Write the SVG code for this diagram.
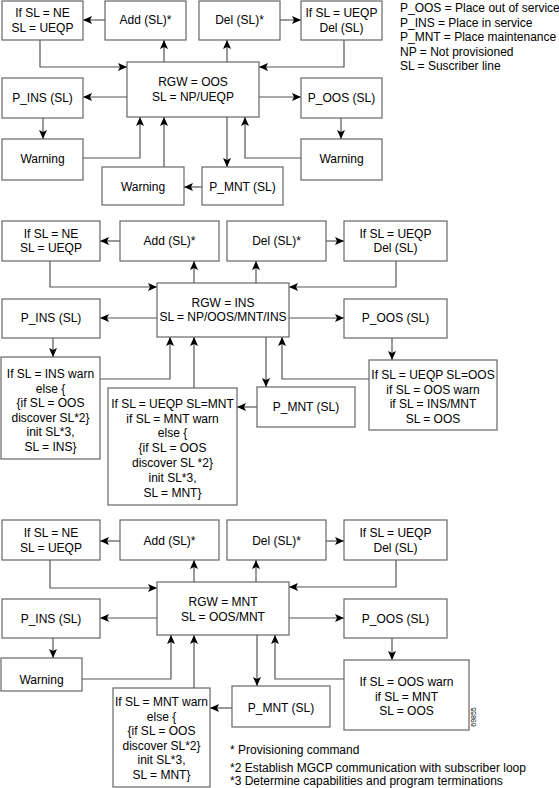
<svg xmlns="http://www.w3.org/2000/svg" width="559" height="788" viewBox="0 0 559 788">
<defs>
<marker id="ah" markerWidth="9" markerHeight="8" refX="9" refY="4" orient="auto" markerUnits="userSpaceOnUse">
<path d="M0,0 L9,4 L0,8 L2,4 z" fill="#000"/>
</marker>
<style>
rect{fill:#fff;stroke:#666;stroke-width:1.2}
text{font-family:"Liberation Sans",Arial,sans-serif;font-size:12px;fill:#000}
.c{text-anchor:middle}
.s{font-size:7px}
#connectors path{fill:none;stroke:#555;stroke-width:1.2;marker-end:url(#ah)}
</style>
</defs>
<rect x="0" y="0" width="559" height="788" style="fill:#fff;stroke:none"/>
<g id="connectors">
<path d="M105,20 H83"/>
<path d="M280,20 H301"/>
<path d="M40,40 V67 H127"/>
<path d="M164,62 V40"/>
<path d="M227,62 V40"/>
<path d="M344,40 V67 H259"/>
<path d="M127,97 H83"/>
<path d="M259,97 H301"/>
<path d="M43,118 V139"/>
<path d="M341,118 V139"/>
<path d="M83,158 H140 V117"/>
<path d="M164,167 V117"/>
<path d="M227,117 V167"/>
<path d="M202,187 H184"/>
<path d="M301,158 H245 V117"/>
<path d="M120,241 H100"/>
<path d="M326,241 H344"/>
<path d="M50,261 V287 H157"/>
<path d="M194,283 V261"/>
<path d="M256,283 V261"/>
<path d="M396,261 V287 H289"/>
<path d="M157,318 H100"/>
<path d="M289,318 H344"/>
<path d="M53,338 V357"/>
<path d="M392,338 V360"/>
<path d="M100,379 H170 V337"/>
<path d="M194,388 V337"/>
<path d="M266,337 V387"/>
<path d="M257,407 H237"/>
<path d="M369,379 H282 V337"/>
<path d="M120,541 H100"/>
<path d="M326,541 H344"/>
<path d="M50,560 V588 H157"/>
<path d="M194,582 V560"/>
<path d="M256,582 V560"/>
<path d="M396,560 V587 H289"/>
<path d="M157,618 H100"/>
<path d="M289,618 H344"/>
<path d="M53,638 V658"/>
<path d="M392,638 V660"/>
<path d="M82,679 H171 V635"/>
<path d="M194,688 V635"/>
<path d="M257,635 V686"/>
<path d="M232,708 H210"/>
<path d="M344,679 H275 V635"/>
</g>
<g id="n1_ne"><rect x="2" y="1" width="81" height="39"/><text class="c" x="42.5" y="17">If SL = NE</text><text class="c" x="42.5" y="31.5">SL = UEQP</text></g>
<g id="n1_add"><rect x="105" y="1" width="81" height="39"/><text class="c" x="145.5" y="24">Add (SL)*</text></g>
<g id="n1_del"><rect x="199" y="1" width="81" height="39"/><text class="c" x="239.5" y="24">Del (SL)*</text></g>
<g id="n1_ueqp"><rect x="301" y="1" width="81" height="39"/><text class="c" x="341.5" y="17">If SL = UEQP</text><text class="c" x="341.5" y="31.5">Del (SL)</text></g>
<g id="n1_rgw"><rect x="127" y="62" width="132" height="55"/><text class="c" x="193" y="86">RGW = OOS</text><text class="c" x="193" y="101">SL = NP/UEQP</text></g>
<g id="n1_pins"><rect x="2" y="78" width="81" height="40"/><text class="c" x="42.5" y="101.5">P_INS (SL)</text></g>
<g id="n1_poos"><rect x="301" y="78" width="81" height="40"/><text class="c" x="341.5" y="101.5">P_OOS (SL)</text></g>
<g id="n1_warnL"><rect x="2" y="139" width="81" height="41"/><text class="c" x="42.5" y="162.5">Warning</text></g>
<g id="n1_warnR"><rect x="301" y="139" width="81" height="41"/><text class="c" x="341.5" y="162.5">Warning</text></g>
<g id="n1_warnM"><rect x="102" y="167" width="82" height="38"/><text class="c" x="143" y="191">Warning</text></g>
<g id="n1_pmnt"><rect x="202" y="167" width="81" height="38"/><text class="c" x="242.5" y="191">P_MNT (SL)</text></g>
<g id="legend">
<text x="400" y="11.5">P_OOS = Place out of service</text>
<text x="400" y="26.5">P_INS = Place in service</text>
<text x="400" y="41">P_MNT = Place maintenance</text>
<text x="400" y="55.5">NP = Not provisioned</text>
<text x="400" y="70">SL = Suscriber line</text>
</g>
<g id="n2_ne"><rect x="2" y="221" width="98" height="40"/><text class="c" x="51" y="237.5">If SL = NE</text><text class="c" x="51" y="252">SL = UEQP</text></g>
<g id="n2_add"><rect x="120" y="221" width="99" height="40"/><text class="c" x="169.5" y="245">Add (SL)*</text></g>
<g id="n2_del"><rect x="227" y="221" width="99" height="40"/><text class="c" x="276.5" y="245">Del (SL)*</text></g>
<g id="n2_ueqp"><rect x="344" y="221" width="103" height="40"/><text class="c" x="395.5" y="237.5">If SL = UEQP</text><text class="c" x="395.5" y="252">Del (SL)</text></g>
<g id="n2_rgw"><rect x="157" y="283" width="132" height="54"/><text class="c" x="223" y="306.5">RGW = INS</text><text class="c" x="223" y="321">SL = NP/OOS/MNT/INS</text></g>
<g id="n2_pins"><rect x="2" y="299" width="98" height="39"/><text class="c" x="51" y="322">P_INS (SL)</text></g>
<g id="n2_poos"><rect x="344" y="299" width="103" height="39"/><text class="c" x="395.5" y="322">P_OOS (SL)</text></g>
<g id="n2_insbox"><rect x="1" y="357" width="99" height="102"/>
<text class="c" x="50.5" y="378">If SL = INS warn</text>
<text class="c" x="50.5" y="392.5">else {</text>
<text class="c" x="50.5" y="407">{if SL = OOS</text>
<text class="c" x="50.5" y="421.5">discover SL*2}</text>
<text class="c" x="50.5" y="436">init SL*3,</text>
<text class="c" x="50.5" y="450.5">SL = INS}</text></g>
<g id="n2_mntbox"><rect x="108" y="388" width="129" height="117"/>
<text class="c" x="172.5" y="407.5">If SL = UEQP  SL=MNT</text>
<text class="c" x="172.5" y="422.5">if SL = MNT warn</text>
<text class="c" x="172.5" y="437">else {</text>
<text class="c" x="172.5" y="452">{if SL = OOS</text>
<text class="c" x="172.5" y="467">discover SL *2}</text>
<text class="c" x="172.5" y="481.5">init SL*3,</text>
<text class="c" x="172.5" y="496.5">SL = MNT}</text></g>
<g id="n2_pmnt"><rect x="257" y="387" width="98" height="40"/><text class="c" x="306" y="411">P_MNT (SL)</text></g>
<g id="n2_oosbox"><rect x="369" y="360" width="128" height="70"/>
<text class="c" x="433" y="379">If SL = UEQP SL=OOS</text>
<text class="c" x="433" y="394">if SL = OOS warn</text>
<text class="c" x="433" y="408">if SL = INS/MNT</text>
<text class="c" x="433" y="423">SL = OOS</text></g>
<g id="n3_ne"><rect x="2" y="520" width="98" height="40"/><text class="c" x="51" y="537">If SL = NE</text><text class="c" x="51" y="551.5">SL = UEQP</text></g>
<g id="n3_add"><rect x="120" y="520" width="99" height="40"/><text class="c" x="169.5" y="545">Add (SL)*</text></g>
<g id="n3_del"><rect x="227" y="520" width="99" height="40"/><text class="c" x="276.5" y="545">Del (SL)*</text></g>
<g id="n3_ueqp"><rect x="344" y="520" width="103" height="40"/><text class="c" x="395.5" y="537">If SL = UEQP</text><text class="c" x="395.5" y="552">Del (SL)</text></g>
<g id="n3_rgw"><rect x="157" y="582" width="132" height="53"/><text class="c" x="223" y="606">RGW = MNT</text><text class="c" x="223" y="621">SL = OOS/MNT</text></g>
<g id="n3_pins"><rect x="2" y="599" width="98" height="39"/><text class="c" x="51" y="622.5">P_INS (SL)</text></g>
<g id="n3_poos"><rect x="344" y="599" width="103" height="39"/><text class="c" x="395.5" y="623">P_OOS (SL)</text></g>
<g id="n3_warn"><rect x="1" y="658" width="81" height="33"/><text class="c" x="41.5" y="684">Warning</text></g>
<g id="n3_mntbox"><rect x="113" y="688" width="97" height="99"/>
<text class="c" x="161.5" y="706">If SL = MNT warn</text>
<text class="c" x="161.5" y="721">else {</text>
<text class="c" x="161.5" y="735">{if SL = OOS</text>
<text class="c" x="161.5" y="750">discover SL*2}</text>
<text class="c" x="161.5" y="764">init SL*3,</text>
<text class="c" x="161.5" y="778.5">SL = MNT}</text></g>
<g id="n3_pmnt"><rect x="232" y="686" width="98" height="41"/><text class="c" x="281" y="712">P_MNT (SL)</text></g>
<g id="n3_oosbox"><rect x="344" y="660" width="125" height="70"/>
<text class="c" x="406.5" y="686">If SL = OOS warn</text>
<text class="c" x="406.5" y="701">if SL = MNT</text>
<text class="c" x="406.5" y="715">SL = OOS</text></g>
<g id="notes">
<text x="230" y="754">* Provisioning command</text>
<text x="230" y="771.5">*2 Establish MGCP communication with subscriber loop</text>
<text x="230" y="785">*3 Determine capabilities and program terminations</text>
<text class="s c" transform="translate(476,717) rotate(-90)">69855</text>
</g>
</svg>
